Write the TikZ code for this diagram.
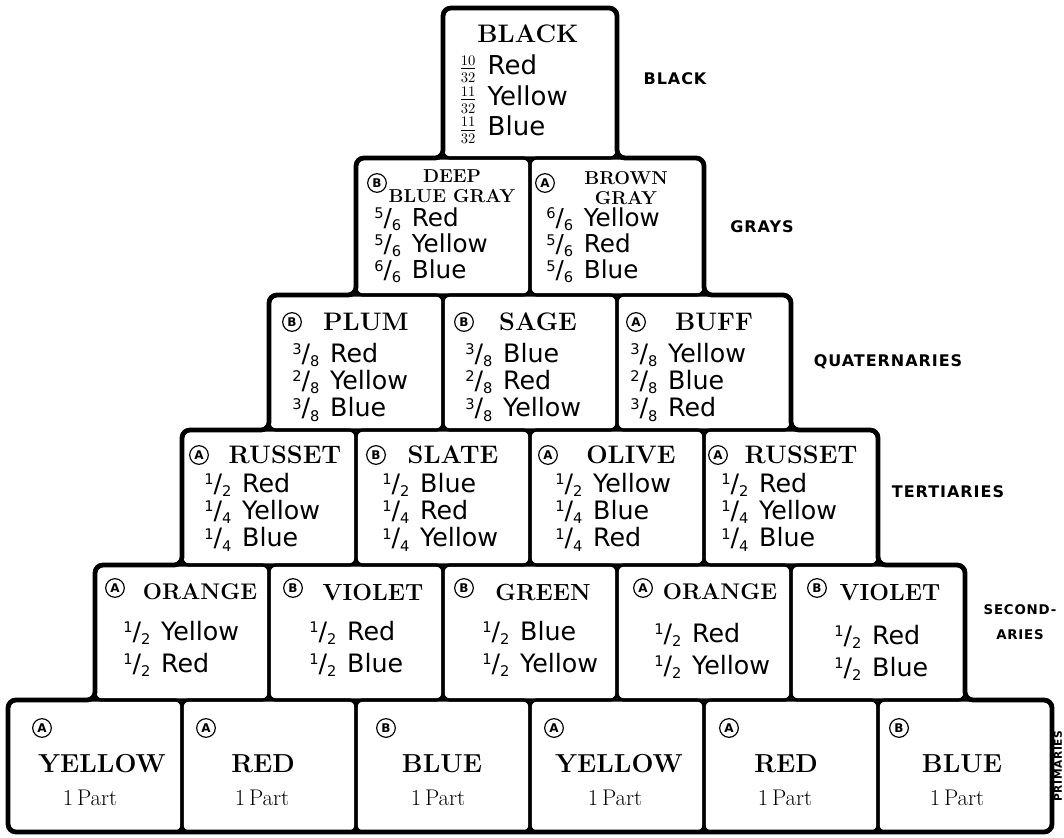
\documentclass[tikz,border=0pt]{standalone}
\usepackage{amsmath}
\usepackage{fontspec}
\usepackage{tikz}

\newfontfamily\hand{DejaVu Sans}
\newfontfamily\lblfont[LetterSpace=6]{DejaVu Sans}
% small slanted and stacked fractions
\newcommand{\fr}[2]{\raisebox{.55ex}{\fontsize{11}{11}\selectfont#1}/\raisebox{-.3ex}{\fontsize{11}{11}\selectfont#2}}
\newcommand{\sfr}[2]{{\fontsize{16}{16}\selectfont$\frac{#1}{#2}$}}
% list of parts: #1 = font size, #2 = line spacing, #3 = rows
\newcommand{\mix}[3]{\hand\fontsize{#1}{#2}\selectfont\begin{tabular}{@{}l@{\hspace{8pt}}l@{}}#3\end{tabular}}

\begin{document}
\begin{tikzpicture}[x=0.75pt,y=0.75pt,yscale=-1,xscale=1,
  cell/.style={draw, line width=2.4pt, rounded corners=5pt, minimum width=130.5pt, inner sep=0pt},
  badge/.style={draw, circle, line width=0.9pt, minimum size=14pt, inner sep=0pt, font=\hand\fontsize{9}{9}\selectfont\bfseries},
  ttl/.style={inner sep=0.75pt, font=\fontsize{19}{20}\selectfont\bfseries, align=center},
  part/.style={inner sep=0.75pt, font=\fontsize{17}{18}\selectfont},
  body/.style={anchor=west, inner sep=0pt},
  side/.style={inner sep=0.75pt, font=\lblfont\fontsize{12}{13}\selectfont\bfseries, align=center}]
\useasboundingbox (0,0) rectangle (1064,838);

%Shape: cells, primaries
\node[cell, minimum height=99pt] (yellowA) at (95,766) {};
\node[cell, minimum height=99pt] (redA) at (269,766) {};
\node[cell, minimum height=99pt] (blueA) at (443,766) {};
\node[cell, minimum height=99pt] (yellowB) at (617,766) {};
\node[cell, minimum height=99pt] (redB) at (791,766) {};
\node[cell, minimum height=99pt] (blueB) at (965,766) {};
%Shape: cells, secondaries
\node[cell, minimum height=101.25pt] (orangeA) at (182,632.5) {};
\node[cell, minimum height=101.25pt] (violetA) at (356,632.5) {};
\node[cell, minimum height=101.25pt] (green) at (530,632.5) {};
\node[cell, minimum height=101.25pt] (orangeB) at (704,632.5) {};
\node[cell, minimum height=101.25pt] (violetB) at (878,632.5) {};
%Shape: cells, tertiaries
\node[cell, minimum height=101.25pt] (russetA) at (269,497.5) {};
\node[cell, minimum height=101.25pt] (slate) at (443,497.5) {};
\node[cell, minimum height=101.25pt] (olive) at (617,497.5) {};
\node[cell, minimum height=101.25pt] (russetB) at (791,497.5) {};
%Shape: cells, quaternaries
\node[cell, minimum height=101.25pt] (plum) at (356,362.5) {};
\node[cell, minimum height=101.25pt] (sage) at (530,362.5) {};
\node[cell, minimum height=101.25pt] (buff) at (704,362.5) {};
%Shape: cells, grays
\node[cell, minimum height=102.75pt] (dbgray) at (443,226.5) {};
\node[cell, minimum height=102.75pt] (bgray) at (617,226.5) {};
%Shape: cell, black
\node[cell, minimum height=112.5pt] (black) at (530,83) {};

%Shape: outer steps
\draw[line width=3.6pt, rounded corners=6pt] (8,832) -- (8,700) -- (95,700) -- (95,565) -- (182,565) -- (182,430) -- (269,430) -- (269,295) -- (356,295) -- (356,158) -- (443,158) -- (443,8) -- (617,8) -- (617,158) -- (704,158) -- (704,295) -- (791,295) -- (791,430) -- (878,430) -- (878,565) -- (965,565) -- (965,700) -- (1052,700) -- (1052,832) -- cycle;

% Text Node: black
\node[ttl] (black-t) at (528,34) {BLACK};
\node[body] (black-b) at (459,99) {\mix{19.5}{23}{\sfr{10}{32} & Red\\ \sfr{11}{32} & Yellow\\ \sfr{11}{32} & Blue}};

% Text Node: grays
\node[badge] (dbgray-m) at (377,183) {B};
\node[ttl, font=\fontsize{14}{15}\selectfont\bfseries] (dbgray-t) at (452,186) {DEEP\\BLUE GRAY};
\node[body] (dbgray-b) at (374,247) {\mix{18.5}{18.75}{\fr56 & Red\\ \fr56 & Yellow\\ \fr66 & Blue}};
\node[badge] (bgray-m) at (545,183) {A};
\node[ttl, font=\fontsize{14}{15}\selectfont\bfseries] (bgray-t) at (626,188) {BROWN\\GRAY};
\node[body] (bgray-b) at (546,247) {\mix{18.5}{18.75}{\fr66 & Yellow\\ \fr56 & Red\\ \fr56 & Blue}};

% Text Node: quaternaries
\node[badge] (plum-m) at (292,322) {B};
\node[ttl] (plum-t) at (366,322) {PLUM};
\node[body] (plum-b) at (292,384) {\mix{19}{20.6}{\fr38 & Red\\ \fr28 & Yellow\\ \fr38 & Blue}};
\node[badge] (sage-m) at (464,322) {B};
\node[ttl] (sage-t) at (538,322) {SAGE};
\node[body] (sage-b) at (465,384) {\mix{19}{20.6}{\fr38 & Blue\\ \fr28 & Red\\ \fr38 & Yellow}};
\node[badge] (buff-m) at (636,322) {A};
\node[ttl] (buff-t) at (714,322) {BUFF};
\node[body] (buff-b) at (630,384) {\mix{19}{20.6}{\fr38 & Yellow\\ \fr28 & Blue\\ \fr38 & Red}};

% Text Node: tertiaries
\node[badge] (russetA-m) at (199,455) {A};
\node[ttl] (russetA-t) at (285,455) {RUSSET};
\node[body] (russetA-b) at (204,514) {\mix{19}{20.6}{\fr12 & Red\\ \fr14 & Yellow\\ \fr14 & Blue}};
\node[badge] (slate-m) at (376,455) {B};
\node[ttl] (slate-t) at (453,455) {SLATE};
\node[body] (slate-b) at (382,514) {\mix{19}{20.6}{\fr12 & Blue\\ \fr14 & Red\\ \fr14 & Yellow}};
\node[badge] (olive-m) at (548,455) {A};
\node[ttl] (olive-t) at (631,455) {OLIVE};
\node[body] (olive-b) at (555,514) {\mix{19}{20.6}{\fr12 & Yellow\\ \fr14 & Blue\\ \fr14 & Red}};
\node[badge] (russetB-m) at (718,455) {A};
\node[ttl] (russetB-t) at (801,455) {RUSSET};
\node[body] (russetB-b) at (721,514) {\mix{19}{20.6}{\fr12 & Red\\ \fr14 & Yellow\\ \fr14 & Blue}};

% Text Node: secondaries
\node[badge] (orangeA-m) at (115,588) {A};
\node[ttl, font=\fontsize{17}{18}\selectfont\bfseries] (orangeA-t) at (200,592) {ORANGE};
\node[body] (orangeA-b) at (123,650) {\mix{19}{24}{\fr12 & Yellow\\ \fr12 & Red}};
\node[badge] (violetA-m) at (293,588) {B};
\node[ttl, font=\fontsize{17.5}{18}\selectfont\bfseries] (violetA-t) at (373,592) {VIOLET};
\node[body] (violetA-b) at (309,650) {\mix{19}{24}{\fr12 & Red\\ \fr12 & Blue}};
\node[badge] (green-m) at (464,588) {B};
\node[ttl, font=\fontsize{17.5}{18}\selectfont\bfseries] (green-t) at (543,592) {GREEN};
\node[body] (green-b) at (482,650) {\mix{19}{24}{\fr12 & Blue\\ \fr12 & Yellow}};
\node[badge] (orangeB-m) at (643,588) {A};
\node[ttl, font=\fontsize{17}{18}\selectfont\bfseries] (orangeB-t) at (720,592) {ORANGE};
\node[body] (orangeB-b) at (654,652) {\mix{19}{24}{\fr12 & Red\\ \fr12 & Yellow}};
\node[badge] (violetB-m) at (817,588) {B};
\node[ttl, font=\fontsize{17.5}{18}\selectfont\bfseries] (violetB-t) at (890,592) {VIOLET};
\node[body] (violetB-b) at (834,654) {\mix{19}{24}{\fr12 & Red\\ \fr12 & Blue}};

% Text Node: primaries
\node[badge] (yellowA-m) at (42,728) {A};
\node[ttl, font=\fontsize{19.5}{20}\selectfont\bfseries] (yellowA-t) at (102,764) {YELLOW};
\node[part] (yellowA-p) at (90,798) {1\,Part};
\node[badge] (redA-m) at (206,728) {A};
\node[ttl, font=\fontsize{19.5}{20}\selectfont\bfseries] (redA-t) at (263,764) {RED};
\node[part] (redA-p) at (262,798) {1\,Part};
\node[badge] (blueA-m) at (386,728) {B};
\node[ttl, font=\fontsize{19.5}{20}\selectfont\bfseries] (blueA-t) at (442,764) {BLUE};
\node[part] (blueA-p) at (438,798) {1\,Part};
\node[badge] (yellowB-m) at (554,728) {A};
\node[ttl, font=\fontsize{19.5}{20}\selectfont\bfseries] (yellowB-t) at (619,764) {YELLOW};
\node[part] (yellowB-p) at (615,798) {1\,Part};
\node[badge] (redB-m) at (729,728) {A};
\node[ttl, font=\fontsize{19.5}{20}\selectfont\bfseries] (redB-t) at (786,764) {RED};
\node[part] (redB-p) at (785,798) {1\,Part};
\node[badge] (blueB-m) at (899,728) {B};
\node[ttl, font=\fontsize{19.5}{20}\selectfont\bfseries] (blueB-t) at (962,764) {BLUE};
\node[part] (blueB-p) at (957,798) {1\,Part};

% Text Node: side labels
\node[side] (lbl-black) at (675,79) {BLACK};
\node[side] (lbl-grays) at (762,227) {GRAYS};
\node[side] (lbl-quat) at (888,362) {QUATERNARIES};
\node[side] (lbl-tert) at (948,492) {TERTIARIES};
\node[side, font=\lblfont\fontsize{10}{19}\selectfont\bfseries] (lbl-sec) at (1020,622) {SECOND-\\ARIES};
\node[side, rotate=90, font=\lblfont\fontsize{8}{9}\selectfont\bfseries] (lbl-prim) at (1058,766) {PRIMARIES};

\end{tikzpicture}
\end{document}
